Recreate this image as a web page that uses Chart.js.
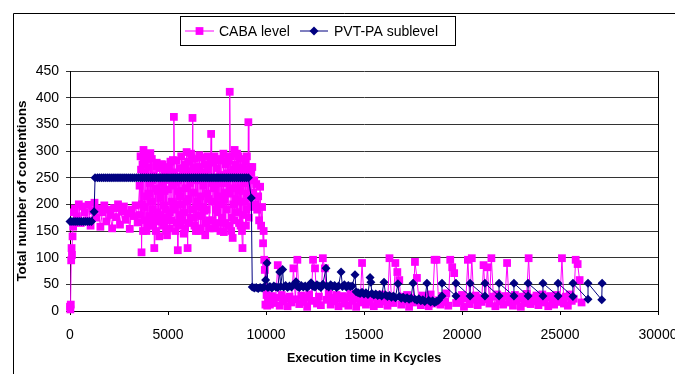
<!DOCTYPE html>
<html>
<head>
<meta charset="utf-8">
<title>Contentions over time</title>
<script src="https://cdn.jsdelivr.net/npm/chart.js@4/dist/chart.umd.min.js"></script>
<style>
  html, body { margin: 0; padding: 0; background: #fff; }
  #wrap { width: 675px; height: 374px; }
</style>
</head>
<body>
<div id="wrap"><canvas id="chart" width="675" height="374"></canvas></div>
<script>
// [time in Kcycles, number of contentions]
const cabaStart = [
  [0, 8], [20, 3], [40, 12], [60, 95], [80, 118], [100, 105], [130, 140], [160, 158], [200, 185]
];
const cabaPlateau = [
  [250, 192], [350, 178], [450, 200], [550, 165], [650, 196], [750, 185], [850, 170], [950, 199],
  [1050, 160], [1150, 188], [1250, 203], [1350, 175], [1450, 192], [1550, 158], [1650, 185], [1750, 198],
  [1850, 168], [1950, 190], [2050, 180], [2150, 155], [2250, 193], [2350, 176], [2450, 200], [2550, 162],
  [2650, 186], [2750, 196], [2850, 171], [2950, 183], [3050, 154], [3150, 190], [3250, 178], [3350, 198],
  [3450, 166]
];
const cabaBusy = [
  [3550, 235], [3600, 290], [3650, 110], [3700, 275], [3750, 302], [3800, 195], [3850, 260], [3900, 150],
  [3950, 285], [4000, 220], [4050, 178], [4100, 296], [4150, 205], [4200, 245], [4250, 160], [4300, 118],
  [4350, 230], [4400, 270], [4450, 185], [4500, 250], [4550, 140], [4600, 212], [4650, 275], [4700, 168],
  [4750, 240], [4800, 198], [4850, 262], [4900, 150], [4950, 142], [5000, 228], [5050, 270], [5100, 185],
  [5150, 245], [5200, 205], [5250, 283], [5300, 364], [5350, 190], [5400, 240], [5450, 165], [5500, 114],
  [5550, 225], [5600, 268], [5650, 180], [5700, 252], [5750, 200], [5800, 145], [5850, 275], [5900, 230],
  [5950, 298], [6000, 118], [6050, 210], [6100, 262], [6150, 175], [6200, 288], [6250, 362], [6300, 222],
  [6350, 160], [6400, 270], [6450, 195], [6500, 245], [6550, 150], [6600, 292], [6650, 215], [6700, 178],
  [6750, 260], [6800, 235], [6850, 188], [6900, 142], [6950, 275], [7000, 220], [7050, 265], [7100, 170],
  [7150, 248], [7200, 332], [7250, 205], [7300, 280], [7350, 155], [7400, 238], [7450, 190], [7500, 268],
  [7550, 215], [7600, 165], [7650, 252], [7700, 285], [7750, 200], [7800, 240], [7850, 148], [7900, 222],
  [7950, 275], [8000, 190], [8050, 258], [8100, 282], [8150, 411], [8200, 230], [8250, 175], [8300, 137],
  [8350, 265], [8400, 302], [8450, 210], [8500, 250], [8550, 185], [8600, 290], [8650, 225], [8700, 160],
  [8750, 270], [8800, 118], [8850, 240], [8900, 205], [8950, 280], [9000, 190], [9050, 262], [9100, 354],
  [9150, 215], [9200, 270]
];
// samples between the ones above (same phase, denser logging)
const cabaBusyMid = [
  [3575, 180], [3625, 265], [3675, 200], [3725, 150], [3775, 280], [3825, 170], [3875, 290], [3925, 215],
  [3975, 160], [4025, 270], [4075, 240], [4125, 165], [4175, 285], [4225, 190], [4275, 255], [4325, 175],
  [4375, 150], [4425, 278], [4475, 225], [4525, 168], [4575, 268], [4625, 180], [4675, 240], [4725, 275],
  [4775, 160], [4825, 225], [4875, 190], [4925, 250], [4975, 175], [5025, 265], [5075, 155], [5125, 280],
  [5175, 170], [5225, 235], [5275, 195], [5325, 260], [5375, 150], [5425, 282], [5475, 200], [5525, 245],
  [5575, 160], [5625, 215], [5675, 290], [5725, 170], [5775, 265], [5825, 185], [5875, 155], [5925, 250],
  [5975, 205], [6025, 280], [6075, 165], [6125, 240], [6175, 295], [6225, 190], [6275, 268], [6325, 175],
  [6375, 285], [6425, 150], [6475, 260], [6525, 205], [6575, 180], [6625, 270], [6675, 155], [6725, 288],
  [6775, 195], [6825, 250], [6875, 275], [6925, 165], [6975, 190], [7025, 290], [7075, 210], [7125, 155],
  [7175, 278], [7225, 240], [7275, 170], [7325, 230], [7375, 290], [7425, 160], [7475, 245], [7525, 185],
  [7575, 282], [7625, 200], [7675, 150], [7725, 255], [7775, 175], [7825, 295], [7875, 210], [7925, 165],
  [7975, 240], [8025, 280], [8075, 160], [8125, 220], [8175, 290], [8225, 150], [8275, 260], [8325, 200],
  [8375, 170], [8425, 275], [8475, 185], [8525, 295], [8575, 230], [8625, 165], [8675, 285], [8725, 205],
  [8775, 150], [8825, 265], [8875, 180], [8925, 240], [8975, 160], [9025, 290], [9075, 220], [9125, 175],
  [9175, 265], [9225, 195]
];
const cabaDrop = [
  [9250, 259], [9300, 270], [9350, 222], [9400, 245], [9450, 200], [9500, 238], [9550, 190], [9600, 215],
  [9650, 170], [9700, 233], [9750, 160], [9800, 195], [9850, 127], [9880, 150], [9910, 96], [9940, 77],
  [9970, 12], [10000, 92], [10030, 30], [10060, 10]
];
const cabaTail = [
  [10100, 20], [10200, 12], [10300, 28], [10400, 15], [10500, 25], [10600, 86], [10700, 10], [10800, 30],
  [10900, 18], [11000, 24], [11100, 9], [11200, 27], [11300, 16], [11400, 80], [11500, 22], [11600, 96],
  [11700, 13], [11800, 29], [11900, 17], [12000, 26], [12100, 8], [12200, 31], [12300, 19], [12400, 96],
  [12500, 80], [12600, 14], [12700, 27], [12800, 11], [12900, 99], [13000, 80], [13100, 21], [13200, 33],
  [13300, 12], [13400, 25], [13500, 18], [13600, 30], [13700, 9], [13800, 23], [13900, 28], [14000, 14],
  [14100, 26], [14200, 10], [14300, 32], [14400, 19], [14500, 24], [14600, 8], [14700, 29], [14800, 16],
  [14900, 90], [15000, 21], [15100, 12], [15200, 30], [15300, 17], [15400, 25], [15500, 9], [15600, 28],
  [15700, 20], [15800, 13], [15900, 31], [16000, 18], [16100, 24], [16200, 10], [16300, 99], [16400, 22],
  [16500, 15], [16600, 90], [16700, 73], [16800, 58], [16900, 12], [17000, 27], [17100, 19], [17200, 30],
  [17300, 8], [17400, 24], [17500, 16], [17600, 92], [17700, 62], [17800, 21], [17900, 11], [18000, 29],
  [18100, 18], [18200, 25], [18300, 9], [18400, 31], [18500, 14], [18600, 96], [18700, 96], [18800, 20],
  [18900, 12], [19000, 28], [19100, 17], [19200, 33], [19300, 10], [19400, 96], [19500, 82], [19600, 71],
  [19700, 15], [19800, 26], [19900, 19], [20000, 30], [20100, 8], [20200, 24], [20300, 96], [20400, 13],
  [20500, 99], [20600, 21], [20700, 29], [20800, 11], [20900, 25], [21000, 17], [21100, 86], [21200, 22],
  [21300, 82], [21400, 14], [21500, 99], [21600, 27], [21700, 9], [21800, 31], [21900, 18], [22000, 23],
  [22100, 12], [22200, 28], [22300, 90], [22400, 16], [22500, 26], [22600, 10], [22700, 30], [22800, 19],
  [22900, 24], [23000, 8], [23100, 27], [23200, 15], [23300, 32], [23400, 99], [23500, 13], [23600, 25],
  [23700, 18], [23800, 29], [23900, 11], [24000, 22], [24100, 31], [24200, 16], [24300, 26], [24400, 9],
  [24500, 28], [24600, 20], [24700, 12], [24800, 30], [24900, 17], [25000, 24], [25100, 99], [25200, 14],
  [25300, 27], [25400, 10], [25500, 31], [25600, 19], [25700, 23], [25800, 96], [25900, 88], [26000, 58],
  [26100, 16]
];

const pvtStart = [
  [0, 168], [100, 168], [200, 168], [300, 168], [400, 168], [500, 168], [600, 168], [700, 168],
  [800, 168], [900, 168], [1000, 168], [1100, 168], [1230, 186]
];
const pvtHigh = [
  [1280, 250], [1400, 250], [1500, 250], [1600, 250], [1700, 250], [1800, 250], [1900, 250], [2000, 250],
  [2100, 250], [2200, 250], [2300, 250], [2400, 250], [2500, 250], [2600, 250], [2700, 250], [2800, 250],
  [2900, 250], [3000, 250], [3100, 250], [3200, 250], [3300, 250], [3400, 250], [3500, 250], [3600, 250],
  [3700, 250], [3800, 250], [3900, 250], [4000, 250], [4100, 250], [4200, 250], [4300, 250], [4400, 250],
  [4500, 250], [4600, 250], [4700, 250], [4800, 250], [4900, 250], [5000, 250], [5100, 250], [5200, 250],
  [5300, 250], [5400, 250], [5500, 250], [5600, 250], [5700, 250], [5800, 250], [5900, 250], [6000, 250],
  [6100, 250], [6200, 250], [6300, 250], [6400, 250], [6500, 250], [6600, 250], [6700, 250], [6800, 250],
  [6900, 250], [7000, 250], [7100, 250], [7200, 250], [7300, 250], [7400, 250], [7500, 250], [7600, 250],
  [7700, 250], [7800, 250], [7900, 250], [8000, 250], [8100, 250], [8200, 250], [8300, 250], [8400, 250],
  [8500, 250], [8600, 250], [8700, 250], [8800, 250], [8900, 250], [9000, 250], [9100, 250]
];
const pvtLow = [
  [9250, 212], [9300, 45], [9400, 43], [9500, 44], [9600, 42], [9700, 44], [9800, 43], [9900, 45],
  [9980, 58], [10050, 90], [10100, 44], [10200, 46], [10300, 43], [10400, 47], [10500, 45], [10600, 44],
  [10700, 73], [10750, 46], [10850, 78], [10900, 45], [11000, 48], [11100, 44], [11200, 47], [11300, 45],
  [11400, 49], [11530, 55], [11600, 46], [11700, 44], [11800, 48], [11900, 45], [12000, 47], [12100, 44],
  [12200, 48], [12300, 53], [12400, 46], [12500, 45], [12600, 49], [12700, 47], [12800, 44], [12900, 50],
  [13060, 80], [13100, 47], [13200, 45], [13300, 49], [13400, 46], [13500, 48], [13600, 44], [13700, 47],
  [13830, 73], [13900, 46], [14000, 49], [14100, 45], [14200, 48], [14300, 46], [14400, 47], [14540, 68],
  [14600, 36], [14700, 34], [14800, 33], [14900, 35], [15000, 32], [15100, 34], [15200, 31], [15310, 63],
  [15350, 54], [15400, 33], [15500, 30], [15600, 32], [15700, 29], [15800, 31], [15900, 28], [16020, 54],
  [16100, 30], [16200, 27], [16300, 29], [16400, 26], [16500, 28], [16600, 25], [16730, 51], [16800, 27],
  [16900, 24], [17000, 26], [17100, 23], [17200, 25], [17300, 22], [17400, 24], [17500, 52], [17600, 22],
  [17700, 20], [17800, 23], [17900, 19], [18000, 21], [18100, 18], [18210, 52], [18300, 20], [18400, 17],
  [18500, 19], [18600, 16], [18700, 18], [18800, 20]
];
const pvtSawtooth = [
  [18980, 28], [18980, 52], [19690, 28], [19690, 52], [20410, 28], [20410, 52], [21170, 28], [21170, 52],
  [21890, 28], [21890, 52], [22650, 28], [22650, 52], [23370, 28], [23370, 52], [24130, 28], [24130, 52],
  [24900, 28], [24900, 52], [25660, 27], [25660, 52], [26430, 22], [26430, 52], [27130, 21], [27150, 52]
];

const xTicks = [0, 5000, 10000, 15000, 20000, 25000, 30000];
const yTicks = [0, 50, 100, 150, 200, 250, 300, 350, 400, 450];

const FONT = "'Liberation Sans', Arial, sans-serif";
const PINK = '#FF00FF';
const NAVY = '#000080';

// regroupe les segments en une seule série triée par temps
function toPoints(...parts) {
    return parts.flat()
        .map((p, i) => ({ x: p[0], y: p[1], i }))
        .sort((a, b) => a.x - b.x || a.i - b.i)
        .map(p => ({ x: p.x, y: p.y }));
}

// cadre extérieur, bord droit du tracé et légende encadrée
const framePlugin = {
    id: 'frameAndLegend',
    afterDraw(chart) {
        const ctx = chart.ctx;
        const area = chart.chartArea;
        ctx.save();
        ctx.strokeStyle = '#000';
        ctx.lineWidth = 1;
        ctx.beginPath();
        ctx.moveTo(13.5, 380);
        ctx.lineTo(13.5, 13.5);
        ctx.lineTo(680, 13.5);
        ctx.stroke();

        ctx.beginPath();
        ctx.moveTo(Math.round(area.right) + 0.5, area.top);
        ctx.lineTo(Math.round(area.right) + 0.5, area.bottom + 4);
        ctx.stroke();

        // légende
        const box = { x: 180.5, y: 16.5, w: 275, h: 29 };
        ctx.fillStyle = '#fff';
        ctx.fillRect(box.x, box.y, box.w, box.h);
        ctx.strokeRect(box.x, box.y, box.w, box.h);
        const cy = box.y + box.h / 2;
        const items = [
            { text: 'CABA level', color: PINK, style: 'rect', r: 5.5, x0: 185, x1: 214, tx: 219 },
            { text: 'PVT-PA sublevel', color: NAVY, style: 'rectRot', r: 4.5, x0: 300, x1: 328, tx: 334 }
        ];
        items.forEach(it => {
            ctx.strokeStyle = it.color;
            ctx.beginPath();
            ctx.moveTo(it.x0, cy);
            ctx.lineTo(it.x1, cy);
            ctx.stroke();
            ctx.fillStyle = it.color;
            Chart.helpers.drawPoint(ctx, { pointStyle: it.style, radius: it.r, borderWidth: 0 }, (it.x0 + it.x1) / 2, cy);
            ctx.fillStyle = '#000';
            ctx.font = '14px ' + FONT;
            ctx.textBaseline = 'middle';
            ctx.fillText(it.text, it.tx, cy + 1);
        });
        ctx.restore();
    }
};

new Chart(document.getElementById('chart'), {
    type: 'line',
    data: {
        datasets: [
            {
                label: 'CABA level',
                data: toPoints(cabaStart, cabaPlateau, cabaBusy, cabaBusyMid, cabaDrop, cabaTail),
                borderColor: PINK,
                backgroundColor: PINK,
                borderWidth: 1,
                pointStyle: 'rect',
                pointRadius: 5.5,
                pointBorderWidth: 0,
                tension: 0,
                clip: false,
                order: 2
            },
            {
                label: 'PVT-PA sublevel',
                data: toPoints(pvtStart, pvtHigh, pvtLow, pvtSawtooth),
                borderColor: NAVY,
                backgroundColor: NAVY,
                borderWidth: 1,
                pointStyle: 'rectRot',
                pointRadius: 4.5,
                pointBorderWidth: 0,
                tension: 0,
                clip: false,
                order: 1
            }
        ]
    },
    options: {
        responsive: false,
        animation: false,
        devicePixelRatio: 1,
        layout: { padding: { left: 14, top: 71, right: 17, bottom: 8 } },
        plugins: {
            legend: { display: false },
            tooltip: { enabled: false }
        },
        scales: {
            x: {
                type: 'linear',
                min: 0,
                max: 30000,
                afterFit: s => { s.height = 55; s.paddingLeft = 0; s.paddingRight = 0; },
                afterBuildTicks: s => { s.ticks = xTicks.map(v => ({ value: v })); },
                ticks: {
                    color: '#000',
                    font: { family: FONT, size: 14 },
                    padding: 12,
                    maxRotation: 0,
                    autoSkip: false,
                    callback: v => String(v)
                },
                grid: { drawOnChartArea: false, tickLength: 4, color: '#000' },
                border: { color: '#000' },
                title: {
                    display: true,
                    text: 'Execution time in Kcycles',
                    color: '#000',
                    font: { family: FONT, size: 12.5, weight: 'bold' },
                    padding: { top: 0, bottom: 0 }
                }
            },
            y: {
                min: 0,
                max: 450,
                afterFit: s => { s.width = 56; },
                afterBuildTicks: s => { s.ticks = yTicks.map(v => ({ value: v })); },
                ticks: {
                    color: '#000',
                    font: { family: FONT, size: 14 },
                    padding: 7,
                    callback: v => String(v)
                },
                grid: { color: '#333', tickLength: 4 },
                border: { color: '#000' },
                title: {
                    display: true,
                    text: 'Total number of contentions',
                    color: '#000',
                    font: { family: FONT, size: 13.5, weight: 'bold' },
                    padding: { top: 0, bottom: 0 }
                }
            }
        }
    },
    plugins: [framePlugin]
});
</script>
</body>
</html>
